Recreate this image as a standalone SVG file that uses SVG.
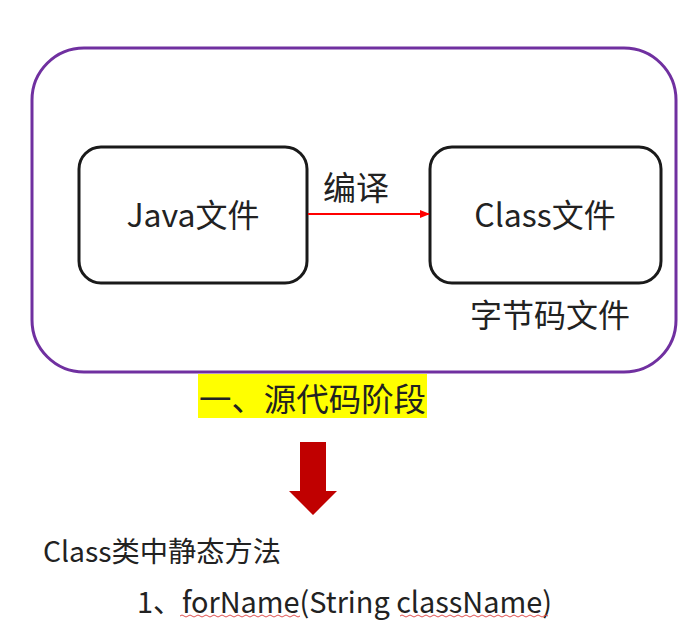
<svg xmlns="http://www.w3.org/2000/svg" width="700" height="637" viewBox="0 0 700 637">
<defs>
<style>
text{font-family:"Noto Sans CJK SC","Microsoft YaHei","Noto Sans",sans-serif;fill:#222;}
.node{fill:#fff;stroke:#1a1a1a;stroke-width:3;}
.lbl{font-size:32px;text-anchor:middle;dominant-baseline:central;}
.wavy{fill:none;stroke:#e05050;stroke-width:1;}
</style>
<marker id="ah" markerWidth="10" markerHeight="10" refX="9" refY="5" orient="auto" markerUnits="userSpaceOnUse">
<path d="M0,1 L10,5 L0,9 Z" fill="#ff0000"/>
</marker>
</defs>
<rect width="700" height="637" fill="#fff"/>
<g id="stage">
<rect x="32" y="48" width="644" height="324" rx="52" ry="52" fill="#fff" stroke="#7030A0" stroke-width="3"/>
</g>
<g id="java">
<rect class="node" x="79" y="147" width="228" height="136" rx="22" ry="22"/>
<text class="lbl" x="193" y="213">Java文件</text>
</g>
<g id="class">
<rect class="node" x="430" y="147" width="231" height="136" rx="22" ry="22"/>
<text class="lbl" x="545" y="213">Class文件</text>
</g>
<g id="connectors">
<line x1="308" y1="214" x2="429" y2="214" stroke="#ff0000" stroke-width="2" marker-end="url(#ah)"/>
<text x="323" y="186" style="font-size:33px;dominant-baseline:central">编译</text>
</g>
<g id="bytecode">
<text x="470" y="313" style="font-size:32px;dominant-baseline:central">字节码文件</text>
</g>
<g id="stage-label">
<rect x="198" y="374" width="229" height="44" fill="#ffff00"/>
<text x="199" y="397" textLength="227" lengthAdjust="spacingAndGlyphs" style="font-size:32px;dominant-baseline:central">一、源代码阶段</text>
</g>
<g id="down-arrow">
<path d="M300,442 H326 V491 H337 L313,515 L289,491 H300 Z" fill="#C00000"/>
</g>
<g id="methods">
<text x="43" y="550" textLength="238" lengthAdjust="spacingAndGlyphs" style="font-size:28px;dominant-baseline:central">Class类中静态方法</text>
<text x="137" y="600" textLength="415" lengthAdjust="spacingAndGlyphs" style="font-size:29px;dominant-baseline:central">1、forName(String className)</text>
<path class="wavy" d="M180,616 q2,-2 4,0 t4,0 t4,0 t4,0 t4,0 t4,0 t4,0 t4,0 t4,0 t4,0 t4,0 t4,0 t4,0 t4,0 t4,0 t4,0 t4,0 t4,0 t4,0 t4,0 t4,0 t4,0 t4,0 t4,0 t4,0 t4,0 t4,0 t4,0 t4,0 t4,0"/>
<path class="wavy" d="M400,616 q2,-2 4,0 t4,0 t4,0 t4,0 t4,0 t4,0 t4,0 t4,0 t4,0 t4,0 t4,0 t4,0 t4,0 t4,0 t4,0 t4,0 t4,0 t4,0 t4,0 t4,0 t4,0 t4,0 t4,0 t4,0 t4,0 t4,0 t4,0 t4,0 t4,0 t4,0 t4,0 t4,0 t4,0 t4,0 t4,0 t4,0 t4,0"/>
</g>
</svg>
